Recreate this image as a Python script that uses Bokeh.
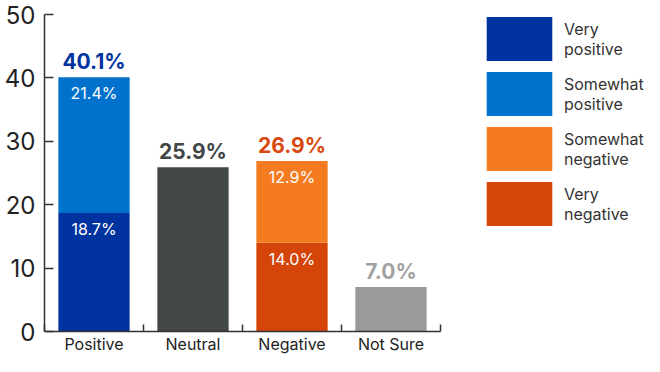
from bokeh.plotting import figure
from bokeh.models import Legend, LegendItem, FixedTicker, ColumnDataSource, Range1d
from bokeh.core.properties import value
from bokeh.embed import file_html
from bokeh.resources import INLINE

categories = ["Positive", "Neutral", "Negative", "Not Sure"]
very_positive = [18.7, 0, 0, 0]
somewhat_positive = [21.4, 0, 0, 0]
neutral = [0, 25.9, 0, 0]
very_negative = [0, 0, 14.0, 0]
somewhat_negative = [0, 0, 12.9, 0]
not_sure = [0, 0, 0, 7.0]
totals = [40.1, 25.9, 26.9, 7.0]
total_colors = ["#0033a0", "#414646", "#d9480f", "#a2a2a2"]
y_ticks = [0, 10, 20, 30, 40, 50]

FONT = "Inter"
n = len(categories)
xs = [i + 0.5 for i in range(n)]

# layout: frame is 600px wide, the category area takes 396px of it, the rest hosts the legend
FRAME_W, CAT_W = 600, 396
x_end = n * FRAME_W / CAT_W

src = ColumnDataSource(dict(
    x=xs, vp=very_positive, sp=somewhat_positive, neu=neutral,
    vn=very_negative, sn=somewhat_negative, ns=not_sure,
))

p = figure(width=644, height=356, x_range=Range1d(0, x_end), y_range=Range1d(0, 50),
           output_backend="svg", toolbar_location=None,
           min_border_left=44, min_border_right=0, min_border_top=14, min_border_bottom=20)
p.outline_line_color = None
p.xgrid.visible = False
p.ygrid.visible = False

stackers = ["vp", "sp", "neu", "vn", "sn", "ns"]
colors = ["#0033a0", "#0072ce", "#414646", "#d5450a", "#f47b20", "#9a9a9b"]
rs = p.vbar_stack(stackers, x="x", width=0.72, color=colors, line_color=None, source=src)

tsrc = ColumnDataSource(dict(x=xs, y=totals, t=[f"{v:.1f}%" for v in totals], c=total_colors))
p.text(x="x", y="y", text="t", source=tsrc, text_align="center", text_baseline="bottom",
       y_offset=-3, text_font=value(FONT), text_font_style="bold", text_font_size="21px",
       text_color="c")

in_x, in_y, in_t = [], [], []
for i in range(n):
    segs = [(very_positive[i], somewhat_positive[i]), (very_negative[i], somewhat_negative[i])]
    for a, b in segs:
        if a > 0 and b > 0:
            in_x += [xs[i], xs[i]]
            in_y += [a, a + b]
            in_t += [f"{a:.1f}%", f"{b:.1f}%"]
isrc = ColumnDataSource(dict(x=in_x, y=in_y, t=in_t))
p.text(x="x", y="y", text="t", source=isrc, text_align="center", text_baseline="top",
       y_offset=6, text_font=value(FONT), text_font_size="16px", text_color="white")

p.yaxis.ticker = FixedTicker(ticks=y_ticks, minor_ticks=[])
p.yaxis.major_tick_in = 9
p.yaxis.major_tick_out = 0
p.yaxis.major_label_standoff = 9
p.yaxis.major_label_text_font = FONT
p.yaxis.major_label_text_font_size = "24px"
p.yaxis.major_label_text_color = "#222222"
p.yaxis.axis_line_color = "#333333"
p.yaxis.axis_line_width = 1.5
p.yaxis.major_tick_line_color = "#333333"
p.yaxis.major_tick_line_width = 1.5

p.xaxis.bounds = (0, n)
p.xaxis.ticker = FixedTicker(ticks=xs, minor_ticks=list(range(n + 1)))
p.xaxis.major_label_overrides = {x: c for x, c in zip(xs, categories)}
p.xaxis.major_tick_line_color = None
p.xaxis.major_tick_in = 0
p.xaxis.major_tick_out = 0
p.xaxis.minor_tick_in = 7
p.xaxis.minor_tick_out = 0
p.xaxis.minor_tick_line_color = "#333333"
p.xaxis.minor_tick_line_width = 1.5
p.xaxis.axis_line_color = "#333333"
p.xaxis.axis_line_width = 1.5
p.xaxis.major_label_standoff = 2
p.xaxis.major_label_text_font = FONT
p.xaxis.major_label_text_font_size = "16px"
p.xaxis.major_label_text_color = "#222222"

legend = Legend(items=[
    LegendItem(label="Very\npositive", renderers=[rs[0]]),
    LegendItem(label="Somewhat\npositive", renderers=[rs[1]]),
    LegendItem(label="Somewhat\nnegative", renderers=[rs[4]]),
    LegendItem(label="Very\nnegative", renderers=[rs[3]]),
], location=(434, 100), glyph_width=82, glyph_height=55, spacing=0, label_standoff=4,
    padding=0, margin=0, border_line_color=None, background_fill_alpha=0,
    label_text_font=FONT, label_text_font_size="16px", label_text_color="#333333",
    label_text_line_height=1.2)
p.add_layout(legend)

open("out.html", "w").write(file_html(p, INLINE))
